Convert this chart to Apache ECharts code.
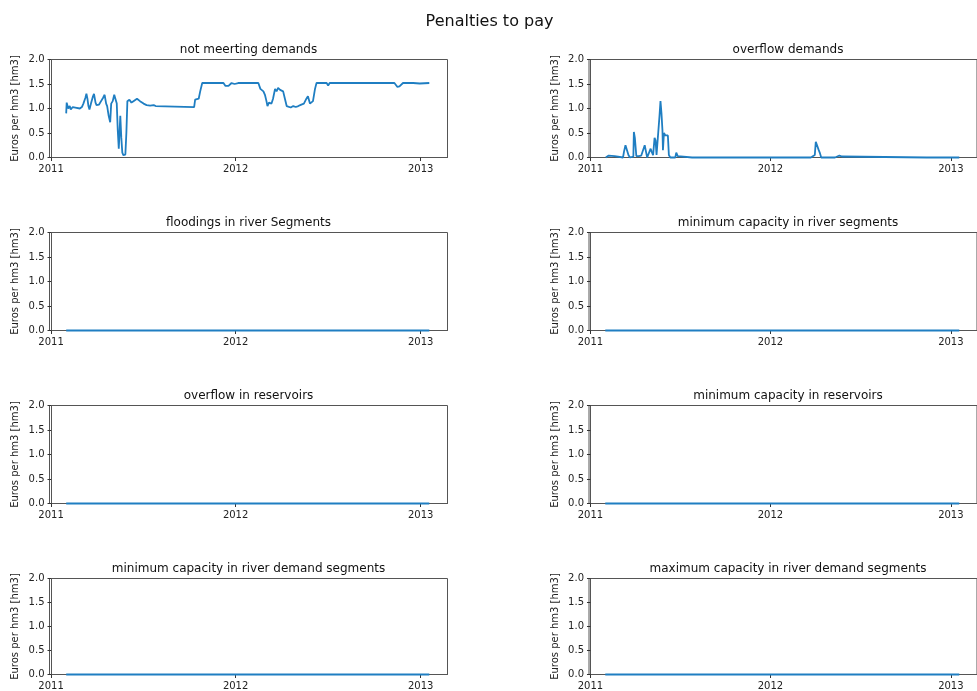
<!DOCTYPE html>
<html>
<head>
<meta charset="utf-8">
<script src="https://cdn.jsdelivr.net/npm/echarts@6/dist/echarts.min.js"></script>
<style>
html,body{margin:0;padding:0;background:#fff;}
#chart{width:977px;height:691px;}
</style>
</head>
<body>
<div id="chart"></div>
<script>
// ---- data (x = days since 2011-01-01) ----
const panelTitles = [
  'not meerting demands', 'overflow demands',
  'floodings in river Segments', 'minimum capacity in river segments',
  'overflow in reservoirs', 'minimum capacity in reservoirs',
  'minimum capacity in river demand segments', 'maximum capacity in river demand segments'
];
const yTickLabels = ['0.0', '0.5', '1.0', '1.5', '2.0'];
const xTickLabels = ['2011', '2012', '2013'];
const xTickDays = [0, 365, 731];

const notMeetingDays = [30,31,34,37,39,43,48,51,57,61,64,68,70,72,74,76,79,83,85,88,90,95,99,103,106,109,111,114,117,119,122,125,128,130,132,134,137,139,141,143,147,149,151,155,159,163,166,170,173,176,183,189,196,199,203,207,210,283,285,292,295,299,341,345,351,357,363,370,410,414,420,423,426,428,431,436,439,443,446,449,453,456,459,462,466,469,474,479,484,489,495,500,505,508,512,515,518,522,525,545,548,551,679,685,689,696,716,719,729,748];
const notMeetingVals = [0.90,1.12,1.00,1.05,0.98,1.03,1.02,0.98,1.00,1.03,1.10,1.22,1.30,1.20,1.05,0.98,1.10,1.25,1.30,1.12,1.07,1.08,1.15,1.22,1.28,1.10,1.05,0.85,0.72,1.10,1.15,1.28,1.30,1.10,0.55,0.18,0.85,0.40,0.10,0.05,0.06,0.50,1.15,1.18,1.12,1.15,1.13,1.20,1.23,1.15,1.10,1.07,1.06,1.03,1.07,1.05,1.03,1.03,1.18,1.20,1.35,1.52,1.52,1.46,1.46,1.52,1.50,1.52,1.52,1.40,1.35,1.28,1.15,1.05,1.12,1.10,1.20,1.40,1.35,1.42,1.38,1.42,1.35,1.22,1.05,1.03,1.02,1.05,1.03,1.05,1.08,1.10,1.20,1.25,1.10,1.06,1.15,1.40,1.52,1.52,1.47,1.52,1.52,1.44,1.45,1.52,1.52,1.50,1.51,1.52];

const overflowDemDays = [31,34,37,40,49,51,53,66,68,71,75,77,80,87,88,90,93,98,103,107,110,113,115,119,122,124,127,130,132,134,138,140,142,144,146,147,149,152,155,157,159,162,172,174,177,180,206,207,208,419,421,424,442,443,444,447,455,457,461,463,465,468,496,497,499,505,507,510,512,682,683,684,748];
const overflowDemVals = [0.00,0.04,0.04,0.00,0.03,0.03,0.00,0.00,0.12,0.25,0.25,0.05,0.00,0.02,0.52,0.40,0.03,0.03,0.04,0.05,0.25,0.10,0.00,0.03,0.18,0.12,0.05,0.40,0.35,0.05,0.02,0.85,1.15,0.90,0.55,0.15,0.50,0.45,0.48,0.45,0.05,0.00,0.00,0.10,0.03,0.00,0.00,0.01,0.00,0.00,0.03,0.00,0.00,0.02,0.00,0.00,0.05,0.32,0.30,0.15,0.10,0.00,0.00,0.02,0.00,0.04,0.07,0.02,0.00,0.00,0.01,0.00,0.00];

const zeroDays = [30, 748];
const zeroVals = [0, 0];
const resOverflowDays = [30, 148, 150, 152, 748];
const resOverflowVals = [0, 0, 0.02, 0, 0];

const seriesDays = [notMeetingDays, overflowDemDays, zeroDays, zeroDays, resOverflowDays, zeroDays, zeroDays, zeroDays];
const seriesVals = [notMeetingVals, overflowDemVals, zeroVals, zeroVals, resOverflowVals, zeroVals, zeroVals, zeroVals];

// ---- build chart ----
const xMin = -3, xMax = 784;
const yTicks = yTickLabels.map(Number);

const colLeft = [49.5, 589];
const plotW = 398;
const rowTop = [59.5, 232.5, 405.5, 578.5];
const plotH = 98;
const FONT = 'DejaVu Sans';
const lineColor = '#1f7ec2';
const frameColor = '#555';

const grids = [], xAxes = [], yAxes = [], series = [], titles = [];
titles.push({
  text: 'Penalties to pay', left: 489.5, top: 14, textAlign: 'center', padding: 0,
  textStyle: {fontFamily: FONT, fontSize: 16, fontWeight: 'normal', color: '#111'}
});
for (let i = 0; i < 8; i++) {
  const r = Math.floor(i / 2), c = i % 2;
  const left = colLeft[c], top = rowTop[r];
  grids.push({left: left, top: top, width: plotW, height: plotH, show: true,
    borderColor: frameColor, borderWidth: 1, backgroundColor: 'transparent'});
  titles.push({
    text: panelTitles[i], left: left + plotW / 2, top: top - 16, textAlign: 'center', padding: 0,
    textStyle: {fontFamily: FONT, fontSize: 12, fontWeight: 'normal', color: '#111'}
  });
  xAxes.push({
    type: 'value', gridIndex: i, min: xMin, max: xMax,
    axisLine: {show: true, onZero: false, lineStyle: {color: frameColor, width: 1}},
    axisTick: {show: true, length: 3.5, lineStyle: {color: '#333'}, customValues: xTickDays},
    axisLabel: {show: true, margin: 6.5, fontFamily: FONT, fontSize: 10, color: '#222',
      customValues: xTickDays,
      formatter: v => { const k = xTickDays.indexOf(v); return k >= 0 ? xTickLabels[k] : ''; }},
    splitLine: {show: false}
  });
  yAxes.push({
    type: 'value', gridIndex: i, min: 0, max: 2, interval: 0.5,
    name: 'Euros per hm3 [hm3]', nameLocation: 'middle', nameGap: 29,
    nameTextStyle: {fontFamily: FONT, fontSize: 10, color: '#222'},
    axisLine: {show: true, lineStyle: {color: frameColor, width: 1}},
    axisTick: {show: true, length: 3.5, lineStyle: {color: '#333'}},
    axisLabel: {margin: 5, fontFamily: FONT, fontSize: 10, color: '#222',
      formatter: v => { const k = yTicks.indexOf(v); return k >= 0 ? yTickLabels[k] : v.toFixed(1); }},
    splitLine: {show: false}
  });
  series.push({
    type: 'line', xAxisIndex: i, yAxisIndex: i, showSymbol: false, clip: false,
    lineStyle: {color: lineColor, width: 1.8}, itemStyle: {color: lineColor},
    data: seriesDays[i].map((d, k) => [d, seriesVals[i][k]]),
    z: 5, animation: false
  });
}

const chart = echarts.init(document.getElementById('chart'), null, {renderer: 'canvas'});
chart.setOption({
  backgroundColor: '#fff', animation: false,
  title: titles, grid: grids, xAxis: xAxes, yAxis: yAxes, series: series
});
</script>
</body>
</html>
